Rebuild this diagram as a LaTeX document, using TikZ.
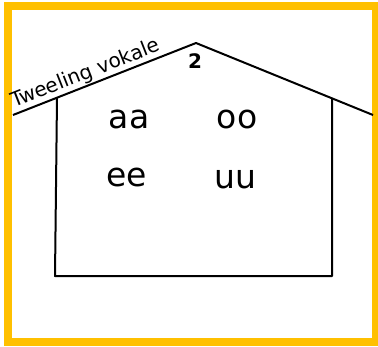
\documentclass[tikz,border=0pt]{standalone}
\usepackage{fontspec}
\setmainfont{DejaVu Sans}
\definecolor{frameyellow}{RGB}{255,192,0}
\begin{document}
\begin{tikzpicture}[x=1pt,y=-1pt,
  wall/.style={line width=2pt, black, line join=round},
  vowel/.style={font=\fontsize{33}{33}\selectfont, inner sep=0pt},
]
\useasboundingbox (0,0) rectangle (378,346);
\fill[white] (0,0) rectangle (378,346);
\draw[frameyellow, line width=8pt] (8,6) rectangle (375.5,341.5);
% house
\coordinate (L) at (13,115);
\coordinate (P) at (196,43);
\coordinate (R) at (373,115);
\coordinate (WLt) at (57,98);
\coordinate (WRt) at (332,99);
\coordinate (WLb) at (55,276);
\coordinate (WRb) at (332,276);
\draw[wall] (L) -- node[sloped, above, pos=0.42, inner sep=1pt, font=\fontsize{20}{20}\selectfont] (label) {Tweeling vokale} (P) -- (R);
\draw[wall] (WLt) -- (WLb) -- (WRb) -- (WRt);
\node[font=\fontsize{20}{20}\bfseries\selectfont, inner sep=0pt] (two) at (195,61) {2};
\node[vowel] (aa) at (129,119) {aa};
\node[vowel] (oo) at (237,119) {oo};
\node[vowel] (ee) at (127,177) {ee};
\node[vowel] (uu) at (235,179) {uu};
\end{tikzpicture}
\end{document}
